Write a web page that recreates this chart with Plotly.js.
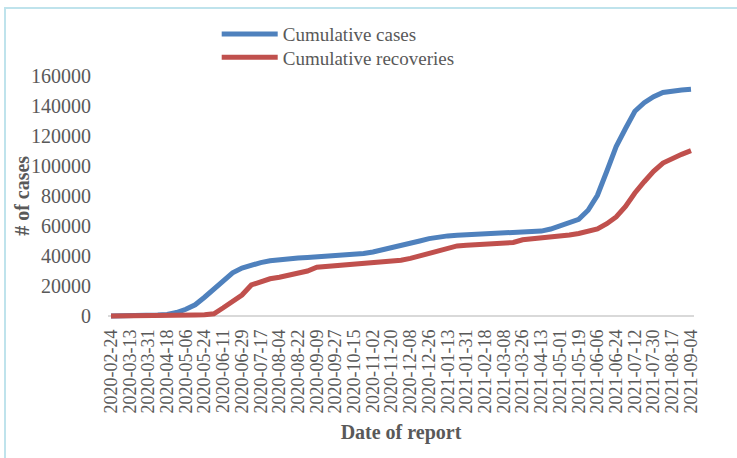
<!DOCTYPE html>
<html>
<head>
<meta charset="utf-8">
<script src="https://cdn.plot.ly/plotly-3.0.1.min.js"></script>
<style>
  html, body { margin: 0; padding: 0; background: #ffffff; }
  #frame { position: absolute; left: 4px; top: 7px; width: 800px; height: 500px;
           border-top: 2px solid #bfe3ec; border-left: 2px solid #bfe3ec; }
  #plot { position: absolute; left: 0; top: 0; width: 737px; height: 458px; }
</style>
</head>
<body>
<div id="frame"></div>
<div id="plot"></div>
<script>
// Report dates (every 9 days)
const dates = [
  "2020-02-24","2020-03-04","2020-03-13","2020-03-22","2020-03-31","2020-04-09","2020-04-18","2020-04-27",
  "2020-05-06","2020-05-15","2020-05-24","2020-06-02","2020-06-11","2020-06-20","2020-06-29","2020-07-08",
  "2020-07-17","2020-07-26","2020-08-04","2020-08-13","2020-08-22","2020-08-31","2020-09-09","2020-09-18",
  "2020-09-27","2020-10-06","2020-10-15","2020-10-24","2020-11-02","2020-11-11","2020-11-20","2020-11-29",
  "2020-12-08","2020-12-17","2020-12-26","2021-01-04","2021-01-13","2021-01-22","2021-01-31","2021-02-09",
  "2021-02-18","2021-02-27","2021-03-08","2021-03-17","2021-03-26","2021-04-04","2021-04-13","2021-04-22",
  "2021-05-01","2021-05-10","2021-05-19","2021-05-28","2021-06-06","2021-06-15","2021-06-24","2021-07-03",
  "2021-07-12","2021-07-21","2021-07-30","2021-08-08","2021-08-17","2021-08-26","2021-09-04"
];

const cumulativeCases = [
  0, 0, 0, 100, 300, 600, 1000, 2300,
  4500, 7500, 12500, 17800, 23500, 28800, 32000, 34200,
  35600, 36800, 37600, 38200, 38600, 39000, 39400, 39800,
  40200, 40600, 41000, 41700, 42700, 44000, 45400, 46800,
  48200, 50000, 51600, 52700, 53400, 53900, 54200, 54600,
  54800, 54900, 55000, 55200, 55400, 55900, 56600, 58000,
  60000, 62000, 64500, 70500, 80500, 96500, 113000, 125000,
  136500, 142200, 146200, 149000, 150100, 150700, 151200
];

const cumulativeRecoveries = [
  0, 0, 0, 0, 100, 200, 300, 400,
  500, 700, 900, 1500, 5500, 9500, 14000, 20700,
  23000, 24800, 25800, 27000, 28400, 30000, 32500, 33000,
  33200, 33600, 34200, 34600, 35000, 35600, 36100, 37200,
  38400, 40200, 41200, 43000, 45500, 46700, 47100, 47500,
  47800, 48300, 48700, 49000, 50800, 51300, 51700, 52200,
  53000, 54000, 55000, 56300, 58000, 61500, 66000, 73000,
  82000, 89500, 96500, 102000, 105300, 107800, 110200
];

// Axis tick labels (every 18 days)
const tickLabels = [
  "2020-02-24","2020-03-13","2020-03-31","2020-04-18","2020-05-06","2020-05-24","2020-06-11","2020-06-29",
  "2020-07-17","2020-08-04","2020-08-22","2020-09-09","2020-09-27","2020-10-15","2020-11-02","2020-11-20",
  "2020-12-08","2020-12-26","2021-01-13","2021-01-31","2021-02-18","2021-03-08","2021-03-26","2021-04-13",
  "2021-05-01","2021-05-19","2021-06-06","2021-06-24","2021-07-12","2021-07-30","2021-08-17","2021-09-04"
];

const seriesNames = ["Cumulative cases", "Cumulative recoveries"];

const FONT = "Liberation Serif, Times New Roman, serif";
const GREY = "#595959";

const traces = [
  { x: dates, y: cumulativeCases, name: seriesNames[0], type: "scatter", mode: "lines",
    line: { color: "#4f81bd", width: 5 }, legend: "legend" },
  { x: dates, y: cumulativeRecoveries, name: seriesNames[1], type: "scatter", mode: "lines",
    line: { color: "#c0504d", width: 5 }, legend: "legend2" }
];

const layout = {
  width: 737, height: 458,
  margin: { l: 108, r: 43, t: 73, b: 139 },
  paper_bgcolor: "rgba(0,0,0,0)",
  plot_bgcolor: "rgba(0,0,0,0)",
  font: { family: FONT, color: GREY },
  showlegend: true,
  legend: {
    x: 0.1855, xanchor: "left", y: 1.235, yanchor: "top",
    font: { family: FONT, size: 19, color: GREY },
    itemwidth: 56, bgcolor: "rgba(0,0,0,0)", borderwidth: 0
  },
  legend2: {
    x: 0.1855, xanchor: "left", y: 1.141, yanchor: "top",
    font: { family: FONT, size: 19, color: GREY },
    itemwidth: 56, bgcolor: "rgba(0,0,0,0)", borderwidth: 0
  },
  xaxis: {
    type: "category",
    range: [-0.3207, 62.3207],
    tickmode: "array",
    tickvals: tickLabels,
    ticktext: tickLabels,
    tickangle: -90,
    tickfont: { family: FONT, size: 18, color: GREY },
    ticklabelstandoff: 6,
    showgrid: false, zeroline: false, showline: false, ticks: "",
    title: { text: "<b>Date of report</b>", font: { family: FONT, size: 20, color: GREY }, standoff: 12 },
    automargin: false
  },
  yaxis: {
    range: [-2000, 162000],
    tick0: 0, dtick: 20000,
    tickformat: "d",
    tickfont: { family: FONT, size: 20, color: GREY },
    showgrid: false,
    zeroline: true, zerolinecolor: "#d9d9d9", zerolinewidth: 2,
    showline: false, ticks: "",
    ticklabelstandoff: 16,
    automargin: false
  },
  annotations: [{
    text: "<b># of cases</b>", textangle: -90,
    xref: "paper", yref: "paper", x: -0.147, y: 0.5,
    xanchor: "center", yanchor: "middle", showarrow: false,
    font: { family: FONT, size: 20, color: GREY }
  }]
};

Plotly.newPlot("plot", traces, layout, { staticPlot: true, displayModeBar: false });
</script>
</body>
</html>
